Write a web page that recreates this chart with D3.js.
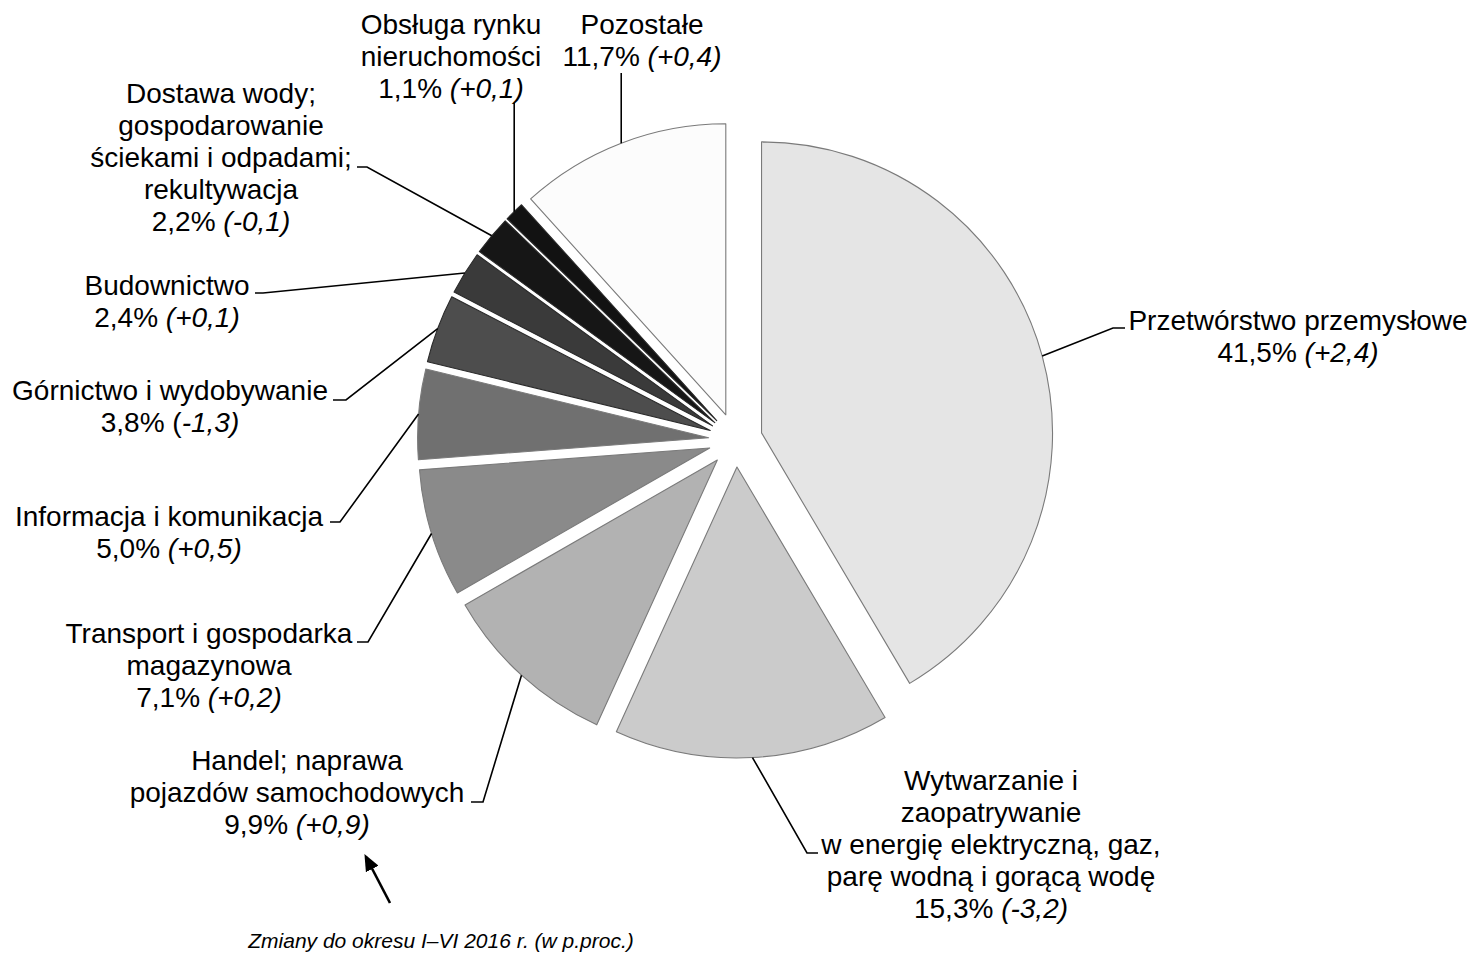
<!DOCTYPE html>
<html><head><meta charset="utf-8">
<script src="https://cdn.jsdelivr.net/npm/d3@7"></script>
<style>
body{margin:0;background:#fff}
svg{display:block}
text{font-family:"Liberation Sans",Arial,Helvetica,sans-serif;fill:#000}
</style>
</head><body>
<svg id="chart" width="1472" height="954"></svg>
<script>
// ---------- data ----------
const categoryLines = [
  ["Przetwórstwo przemysłowe"],
  ["Wytwarzanie i", "zaopatrywanie", "w energię elektryczną, gaz,", "parę wodną i gorącą wodę"],
  ["Handel; naprawa", "pojazdów samochodowych"],
  ["Transport i gospodarka", "magazynowa"],
  ["Informacja i komunikacja"],
  ["Górnictwo i wydobywanie"],
  ["Budownictwo"],
  ["Dostawa wody;", "gospodarowanie", "ściekami i odpadami;", "rekultywacja"],
  ["Obsługa rynku", "nieruchomości"],
  ["Pozostałe"]
];
const shares = [41.5, 15.3, 9.9, 7.1, 5.0, 3.8, 2.4, 2.2, 1.1, 11.7];
const changes = ["+2,4", "-3,2", "+0,9", "+0,2", "+0,5", "-1,3", "+0,1", "-0,1", "+0,1", "+0,4"];
const noteText = "Zmiany do okresu I–VI 2016 r. (w p.proc.)";

// ---------- styles / layout ----------
const sliceColors = ["#e5e5e5", "#cbcbcb", "#b2b2b2", "#8a8a8a", "#707070", "#4d4d4d", "#3a3a3a", "#161616", "#121212", "#fcfcfc"];
const uprightParen = [false, false, false, false, false, true, false, false, false, false];
const cx = 735.5, cy = 440, R = 291, explode = 27;
const fontSize = 28, lineH = 32;
// label anchor: [centre x, first baseline y]
const labelPos = [[1298, 330], [991, 790], [297, 770], [209, 643], [169, 526], [170, 400], [167, 295], [221, 103], [451, 34], [642, 34]];
// leader knee: [knee x, knee y, tail x]; null knee x => vertical leader
const leaderKnee = [[1113, 328, 1125], [807, 853, 818], [483, 802, 471], [368, 642, 357], [340, 522, 330],
                    [346, 400, 333], [263, 293, 255], [367, 167, 357], [null, 103, null], [null, 73, null]];

const svg = d3.select("#chart");
const fmt = v => d3.format(".1f")(v).replace(".", ",") + "%";

const pie = d3.pie().sort(null).value(d => d).startAngle(0).endAngle(2 * Math.PI);
const arcs = pie(shares);
const arcGen = d3.arc().innerRadius(0).outerRadius(R);

const g = svg.append("g").attr("transform", `translate(${cx},${cy})`);

arcs.forEach((a, i) => {
  const mid = (a.startAngle + a.endAngle) / 2;
  const ox = explode * Math.sin(mid), oy = -explode * Math.cos(mid);
  a.ox = ox; a.oy = oy; a.mid = mid;
  g.append("path")
    .attr("d", arcGen(a))
    .attr("transform", `translate(${ox},${oy})`)
    .attr("fill", sliceColors[i])
    .attr("stroke", i >= 5 && i <= 8 ? "#2a2a2a" : "#7a7a7a")
    .attr("stroke-width", 1.1)
    .attr("stroke-linejoin", "round");
});

// leaders
const lg = svg.append("g").attr("fill", "none").attr("stroke", "#000").attr("stroke-width", 1.6);
arcs.forEach((a, i) => {
  const px = cx + a.ox + R * Math.sin(a.mid);
  const py = cy + a.oy - R * Math.cos(a.mid);
  const k = leaderKnee[i];
  let pts;
  if (k[0] === null) pts = [[px, py], [px, k[1]]];
  else pts = [[px, py], [k[0], k[1]], [k[2], k[1]]];
  lg.append("path").attr("d", d3.line()(pts));
});

// labels
arcs.forEach((a, i) => {
  const [lx, ly] = labelPos[i];
  const t = svg.append("text").attr("text-anchor", "middle").attr("font-size", fontSize);
  const lines = categoryLines[i];
  lines.forEach((ln, j) => {
    t.append("tspan").attr("x", lx).attr("y", ly + j * lineH).text(ln);
  });
  const last = t.append("tspan").attr("x", lx).attr("y", ly + lines.length * lineH);
  if (uprightParen[i]) {
    last.append("tspan").text(fmt(shares[i]) + " (");
    last.append("tspan").attr("font-style", "italic").text(changes[i] + ")");
  } else {
    last.append("tspan").text(fmt(shares[i]) + " ");
    last.append("tspan").attr("font-style", "italic").text("(" + changes[i] + ")");
  }
});

// note + arrow
svg.append("defs").append("marker")
  .attr("id", "ah").attr("viewBox", "0 0 10 10").attr("refX", 8).attr("refY", 5)
  .attr("markerWidth", 6.5).attr("markerHeight", 5.5).attr("orient", "auto")
  .attr("preserveAspectRatio", "none")
  .append("path").attr("d", "M0,0 L10,5 L0,10 Z").attr("fill", "#000");
svg.append("line").attr("x1", 390).attr("y1", 903).attr("x2", 366).attr("y2", 857)
  .attr("stroke", "#000").attr("stroke-width", 2.6).attr("marker-end", "url(#ah)");
svg.append("text").attr("x", 441).attr("y", 948).attr("text-anchor", "middle")
  .attr("font-size", 21).attr("font-style", "italic").text(noteText);
</script>
</body></html>
